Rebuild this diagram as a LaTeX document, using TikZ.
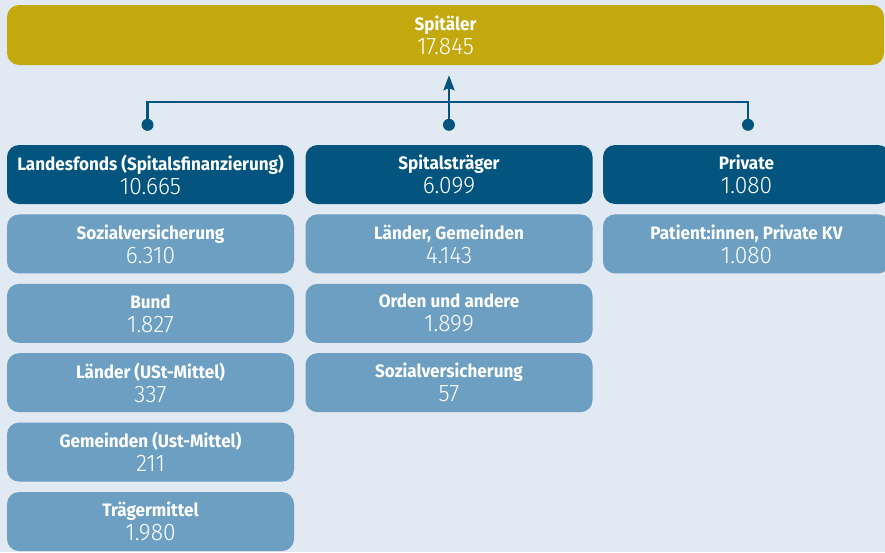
\documentclass[tikz,border=0pt]{standalone}
\usepackage{fontspec}
\setmainfont{Fira Sans}
\newfontfamily\labfont{Fira Sans}[FakeStretch=0.95]
\newfontfamily\numfont{Fira Sans Light}[FakeStretch=0.95]
\usetikzlibrary{positioning, arrows.meta}
\definecolor{SpitalGold}{RGB}{195, 168, 14}
\definecolor{SpitalDark}{RGB}{3, 85, 127}
\definecolor{SpitalLight}{RGB}{108, 159, 193}
\definecolor{SpitalBack}{RGB}{225, 233, 243}

\newcommand{\boxtext}[2]{{\labfont\bfseries\fontsize{18}{24}\selectfont #1}\\{\numfont\fontsize{24}{24}\selectfont #2}}

\tikzset{
    box/.style={rounded corners=12pt, text=white, align=center, inner sep=0pt,
        minimum height=59pt, font=\fontsize{18}{24}\selectfont},
    topbox/.style={box, fill=SpitalGold, minimum width=877pt, minimum height=60pt},
    headbox/.style={box, fill=SpitalDark, minimum width=287pt},
    subbox/.style={box, fill=SpitalLight, minimum width=287pt},
    link/.style={draw=SpitalDark, line width=2.6pt},
}

\begin{document}
\begin{tikzpicture}[x=1pt, y=-1pt]

    % background and page size
    \fill[SpitalBack] (0,0) rectangle (885,552);
    \useasboundingbox (0,0) rectangle (885,552);

    % --- Top ---
    \node[topbox] (spit) at (445.5,35) {\boxtext{Spitäler}{17.845}};

    % --- Second row ---
    \node[headbox] (lf) at (150.5,174.5) {\boxtext{Landesfonds (Spitalsfinanzierung)}{10.665}};
    \node[headbox] (st) at (449,174.5) {\boxtext{Spitalsträger}{6.099}};
    \node[headbox] (pr) at (746.5,174.5) {\boxtext{Private}{1.080}};

    % Landesfonds sources
    \node[subbox, below=10pt of lf] (lf1) {\boxtext{Sozialversicherung}{6.310}};
    \node[subbox, below=10pt of lf1] (lf2) {\boxtext{Bund}{1.827}};
    \node[subbox, below=10pt of lf2] (lf3) {\boxtext{Länder (USt-Mittel)}{337}};
    \node[subbox, below=10pt of lf3] (lf4) {\boxtext{Gemeinden (Ust-Mittel)}{211}};
    \node[subbox, below=10pt of lf4] (lf5) {\boxtext{Trägermittel}{1.980}};

    % Spitalsträger sources
    \node[subbox, below=10pt of st] (st1) {\boxtext{Länder, Gemeinden}{4.143}};
    \node[subbox, below=10pt of st1] (st2) {\boxtext{Orden und andere}{1.899}};
    \node[subbox, below=10pt of st2] (st3) {\boxtext{Sozialversicherung}{57}};

    % Private sources
    \node[subbox, below=10pt of pr] (pr1) {\boxtext{Patient:innen, Private KV}{1.080}};

    % --- Connectors ---
    \coordinate (dl) at ([xshift=-3pt, yshift=20pt]lf.north);
    \coordinate (dm) at ([yshift=20pt]st.north);
    \coordinate (dr) at ([xshift=1.5pt, yshift=20pt]pr.north);
    \draw[link] (dl) -- ([yshift=23pt]dl) -| (dr);
    \draw[link, -{Stealth[length=15pt, width=11pt, inset=2pt]}] (dm) -- ([yshift=-10pt]spit.south -| dm);
    \foreach \d in {dl, dm, dr} {
        \fill[SpitalDark] (\d) circle (6);
    }

\end{tikzpicture}
\end{document}
